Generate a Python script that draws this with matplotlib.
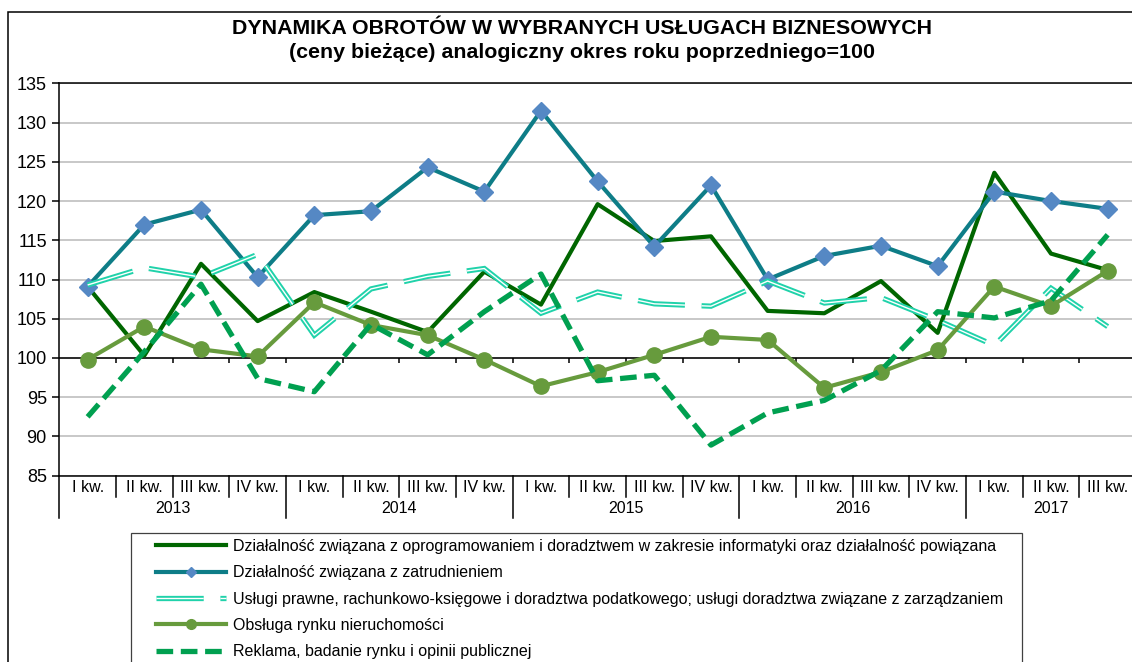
import matplotlib
matplotlib.use('Agg')
import matplotlib.pyplot as plt
from matplotlib.lines import Line2D
from matplotlib.patches import Rectangle
import matplotlib.transforms as mtransforms

plt.rcParams['font.family'] = ['Liberation Sans', 'DejaVu Sans']
plt.rcParams['lines.scale_dashes'] = False

# Dane
quarters = ['I kw.', 'II kw.', 'III kw.', 'IV kw.']
years = ['2013', '2014', '2015', '2016', '2017']
quarters_per_year = [4, 4, 4, 4, 3]

software = [109.1, 100.3, 112.0, 104.7, 108.4, 105.9, 103.3, 111.0, 106.8, 119.6,
            114.9, 115.5, 106.0, 105.7, 109.8, 103.2, 123.6, 113.3, 111.2]
employment = [109.1, 117.0, 118.9, 110.3, 118.2, 118.7, 124.3, 121.2, 131.5, 122.5,
              114.2, 122.0, 110.0, 113.0, 114.3, 111.7, 121.2, 120.0, 119.0]
legal = [109.3, 111.5, 110.3, 113.2, 102.9, 108.8, 110.4, 111.4, 105.7, 108.4,
         106.9, 106.6, 109.8, 107.0, 107.7, 104.8, 101.6, 108.9, 104.0]
real_estate = [99.8, 104.0, 101.1, 100.2, 107.1, 104.2, 102.9, 99.8, 96.4, 98.2,
               100.4, 102.7, 102.3, 96.2, 98.2, 101.0, 109.1, 106.6, 111.1]
advertising = [92.5, 100.8, 109.4, 97.4, 95.7, 104.3, 100.4, 105.9, 110.7, 97.1,
               97.8, 88.9, 93.0, 94.6, 98.4, 105.9, 105.1, 107.3, 115.7]

labels = [
    'Działalność związana z oprogramowaniem i doradztwem w zakresie informatyki oraz działalność powiązana',
    'Działalność związana z zatrudnieniem',
    'Usługi prawne, rachunkowo-księgowe i doradztwa podatkowego; usługi doradztwa związane z zarządzaniem',
    'Obsługa rynku nieruchomości',
    'Reklama, badanie rynku i opinii publicznej',
]

W, H = 1132, 662
fig = plt.figure(figsize=(W / 100, H / 100), dpi=100)

# ramka całego wykresu (obcięta z prawej i z dołu)
fig.patches.append(Rectangle((8 / W, -0.2), 1.2, 1.2 - 11.7 / H, transform=fig.transFigure,
                             fill=False, ec='black', lw=1.1, zorder=0))

left, top, right, bottom = 59.3, 83.3, 1136.0, 475.7
ax = fig.add_axes([left / W, 1 - bottom / H, (right - left) / W, (bottom - top) / H])

n = len(software)
x = list(range(n))

ax.plot(x, software, color='#006600', lw=3.0, zorder=3)
ax.plot(x, employment, color='#0E7D87', lw=3.0, marker='D', ms=9.5,
        mfc='#5588C4', mec='#5588C4', zorder=4)
ax.plot(x, legal, color='#20D2AA', lw=3.8, dashes=(34, 12), dash_joinstyle='miter', zorder=5)
ax.plot(x, legal, color='white', lw=1.0, dashes=(34, 12), dash_joinstyle='miter', zorder=5)
ax.plot(x, real_estate, color='#679B3D', lw=3.0, marker='o', ms=11, zorder=6)
ax.plot(x, advertising, color='#00A050', lw=3.8, dashes=(12, 5.5), zorder=7)

ax.set_xlim(-0.5, n - 0.5)
ax.set_ylim(85, 135)
ax.set_yticks(range(85, 136, 5))
ax.tick_params(axis='y', labelsize=13, length=5, width=1.1, direction='out', pad=4)
ax.set_xticks([])
ax.yaxis.grid(True, color='#C8C8C8', lw=1.4)
ax.set_axisbelow(True)
for s in ['left', 'top', 'bottom']:
    ax.spines[s].set_linewidth(1.1)
ax.spines['right'].set_visible(False)

# oś pozioma przecina przy 100
ax.axhline(100, color='black', lw=1.1, zorder=2)
bounds = [i - 0.5 for i in range(n + 1)]
ax.vlines(bounds[1:-1], 100 - 0.65, 100, color='black', lw=1.1, zorder=2)

# etykiety kategorii w dwóch poziomach
tr = mtransforms.blended_transform_factory(ax.transData, ax.transAxes)
ah = bottom - top
i = 0
for year, nq in zip(years, quarters_per_year):
    ax.plot([i - 0.5, i - 0.5], [0, -42.6 / ah], transform=tr, color='black', lw=1.1, clip_on=False)
    for q in range(nq):
        ax.text(i + q, -11.3 / ah, quarters[q], transform=tr, ha='center', va='center', fontsize=11.5)
        if q > 0:
            ax.plot([i + q - 0.5, i + q - 0.5], [0, -21.3 / ah], transform=tr, color='black',
                    lw=1.1, clip_on=False)
    ax.text(i + (nq - 1) / 2, -32.5 / ah, year, transform=tr, ha='center', va='center', fontsize=11.5)
    i += nq
ax.plot([n - 0.5, n - 0.5], [0, -42.6 / ah], transform=tr, color='black', lw=1.1, clip_on=False)

# tytuł
fig.text(582 / W, 1 - 28.5 / H, 'DYNAMIKA OBROTÓW W WYBRANYCH USŁUGACH BIZNESOWYCH',
         ha='center', va='center', fontsize=15.4, fontweight='bold')
fig.text(582 / W, 1 - 52.5 / H, '(ceny bieżące) analogiczny okres roku poprzedniego=100',
         ha='center', va='center', fontsize=15.4, fontweight='bold')

# legenda
handles = [
    Line2D([], [], color='#006600', lw=3.0),
    Line2D([], [], color='#0E7D87', lw=3.0, marker='D', ms=5.5, mfc='#5588C4', mec='#5588C4'),
    (Line2D([], [], color='#20D2AA', lw=3.8, dashes=(34, 12)),
     Line2D([], [], color='white', lw=1.0, dashes=(34, 12))),
    Line2D([], [], color='#679B3D', lw=3.0, marker='o', ms=7),
    Line2D([], [], color='#00A050', lw=3.8, dashes=(12, 5.5)),
]
fs = 11.5
fpx = fs * 100 / 72
fig.legend(handles, labels, loc='upper left', bbox_to_anchor=(155.6 / W, 1 - 539 / H),
           frameon=False, borderpad=0, borderaxespad=0, fontsize=fs,
           handlelength=70 / fpx, handletextpad=7 / fpx, labelspacing=0.71, numpoints=1)
fig.patches.append(Rectangle((131 / W, -0.2), (1022 - 131) / W, 0.2 + 1 - 533 / H,
                             transform=fig.transFigure, fill=False, ec='#404040', lw=0.9))

fig.savefig('out.png', dpi=100)
